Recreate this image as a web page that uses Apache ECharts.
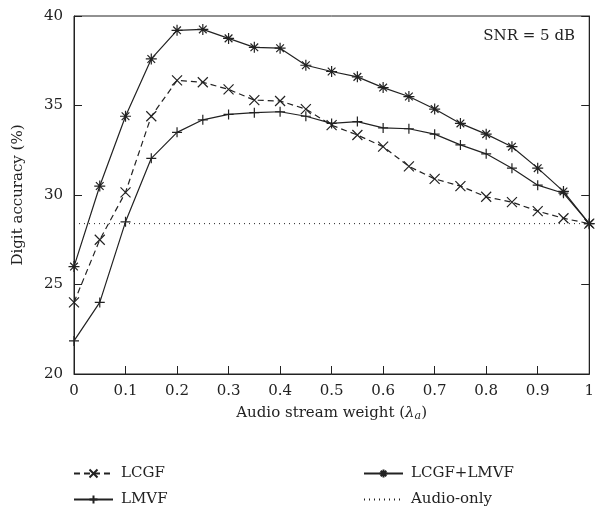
<!DOCTYPE html>
<html>
<head>
<meta charset="utf-8">
<script src="https://cdn.jsdelivr.net/npm/echarts@6/dist/echarts.min.js"></script>
<style>
  html, body { margin: 0; padding: 0; background: #fff; }
  #main { width: 597px; height: 508px; }
</style>
</head>
<body>
<div id="main"></div>
<script>
// audio stream weight values on the x axis
var weights = [0, 0.05, 0.1, 0.15, 0.2, 0.25, 0.3, 0.35, 0.4, 0.45, 0.5,
  0.55, 0.6, 0.65, 0.7, 0.75, 0.8, 0.85, 0.9, 0.95, 1];
var lcgf = [24.0, 27.5, 30.15, 34.4, 36.4, 36.3, 35.9, 35.3, 35.25, 34.8, 33.9,
  33.35, 32.7, 31.6, 30.9, 30.5, 29.9, 29.6, 29.1, 28.7, 28.4];
var lmvf = [21.85, 24.0, 28.5, 32.05, 33.5, 34.2, 34.5, 34.6, 34.65, 34.4, 34.0,
  34.1, 33.75, 33.7, 33.4, 32.8, 32.3, 31.5, 30.55, 30.1, 28.4];
var lcgfLmvf = [26.0, 30.5, 34.4, 37.6, 39.2, 39.25, 38.75, 38.25, 38.2, 37.25, 36.9,
  36.6, 36.0, 35.5, 34.8, 34.0, 33.4, 32.7, 31.5, 30.2, 28.4];
var audioOnly = 28.4;
var yTicks = [20, 25, 30, 35, 40];

var ink = "#222";
var font = "DejaVu Serif";
var fs = 15;

function pairs(vals) {
  return weights.map(function (w, i) { return [w, vals[i]]; });
}

var symX = "path://M0,0L10,10M10,0L0,10";
var symPlus = "path://M0,5L10,5M5,0L5,10";
var symStar = "path://M0,5L10,5M5,0L5,10M1.5,1.5L8.5,8.5M8.5,1.5L1.5,8.5";

function mk(name, vals, symbol, size, dash) {
  return {
    name: name,
    type: "line",
    data: pairs(vals),
    symbol: symbol,
    symbolSize: size,
    showAllSymbol: true,
    lineStyle: { color: ink, width: 1.2, type: dash },
    itemStyle: { color: "none", borderColor: ink, borderWidth: 1.2 },
    emphasis: { disabled: true },
    z: 3
  };
}

function leg(item, left, top) {
  return {
    data: [item],
    left: left, top: top,
    padding: 0,
    itemWidth: 39, itemHeight: 10,
    textStyle: { fontFamily: font, fontSize: fs, color: ink, padding: [0, 0, 0, 3] }
  };
}

var chart = echarts.init(document.getElementById("main"));
var option = {
  animation: false,
  textStyle: { fontFamily: font, color: ink },
  grid: {
    left: 74, right: 3, top: 16, bottom: 134,
    show: true, borderColor: ink, borderWidth: 1
  },
  legend: [
    leg("LCGF", 73, 466),
    leg("LMVF", 73, 492),
    leg("LCGF+LMVF", 363, 466),
    leg({ name: "Audio-only", itemStyle: { opacity: 0 } }, 363, 492)
  ],
  graphic: [{
    type: "text",
    right: 22, top: 29,
    style: { text: "SNR = 5 dB", font: fs + "px " + font, fill: ink }
  }],
  xAxis: {
    type: "value",
    min: 0, max: 1, interval: 0.1,
    name: "Audio stream weight ({i|λ}{s|a})",
    nameLocation: "middle",
    nameGap: 31,
    nameTextStyle: {
      fontFamily: font, fontSize: fs, color: ink,
      rich: {
        i: { fontFamily: font, fontSize: fs, fontStyle: "italic", color: ink },
        s: { fontFamily: font, fontSize: 11, fontStyle: "italic", color: ink, verticalAlign: "bottom", padding: [6, 0, 0, 0] }
      }
    },
    axisLine: { lineStyle: { color: ink } },
    axisTick: { inside: true, length: 8, lineStyle: { color: ink } },
    splitLine: { show: false },
    axisLabel: {
      fontFamily: font, fontSize: fs, color: ink, margin: 10,
      formatter: function (v) { return String(Math.round(v * 10) / 10); }
    }
  },
  yAxis: [
    {
      type: "value",
      min: yTicks[0], max: yTicks[yTicks.length - 1], interval: 5,
      name: "Digit accuracy (%)",
      nameLocation: "middle",
      nameGap: 48,
      nameTextStyle: { fontFamily: font, fontSize: fs, color: ink },
      axisLine: { show: true, lineStyle: { color: ink } },
      axisTick: { show: true, inside: true, length: 8, lineStyle: { color: ink } },
      splitLine: { show: false },
      axisLabel: { fontFamily: font, fontSize: fs, color: ink, margin: 11 }
    },
    {
      type: "value",
      position: "right",
      min: yTicks[0], max: yTicks[yTicks.length - 1], interval: 5,
      axisLine: { show: true, lineStyle: { color: ink } },
      axisTick: { show: true, inside: true, length: 8, lineStyle: { color: ink } },
      splitLine: { show: false },
      axisLabel: { show: false }
    }
  ],
  series: [
    mk("LCGF", lcgf, symX, 10, [6, 4]),
    mk("LMVF", lmvf, symPlus, 10, "solid"),
    mk("LCGF+LMVF", lcgfLmvf, symStar, 11, "solid"),
    {
      name: "Audio-only",
      type: "line",
      data: [[0, audioOnly], [1, audioOnly]],
      symbol: "none",
      lineStyle: { color: ink, width: 1, type: [1, 4] },
      itemStyle: { color: ink },
      emphasis: { disabled: true },
      z: 2
    }
  ]
};
chart.setOption(option);
</script>
</body>
</html>
